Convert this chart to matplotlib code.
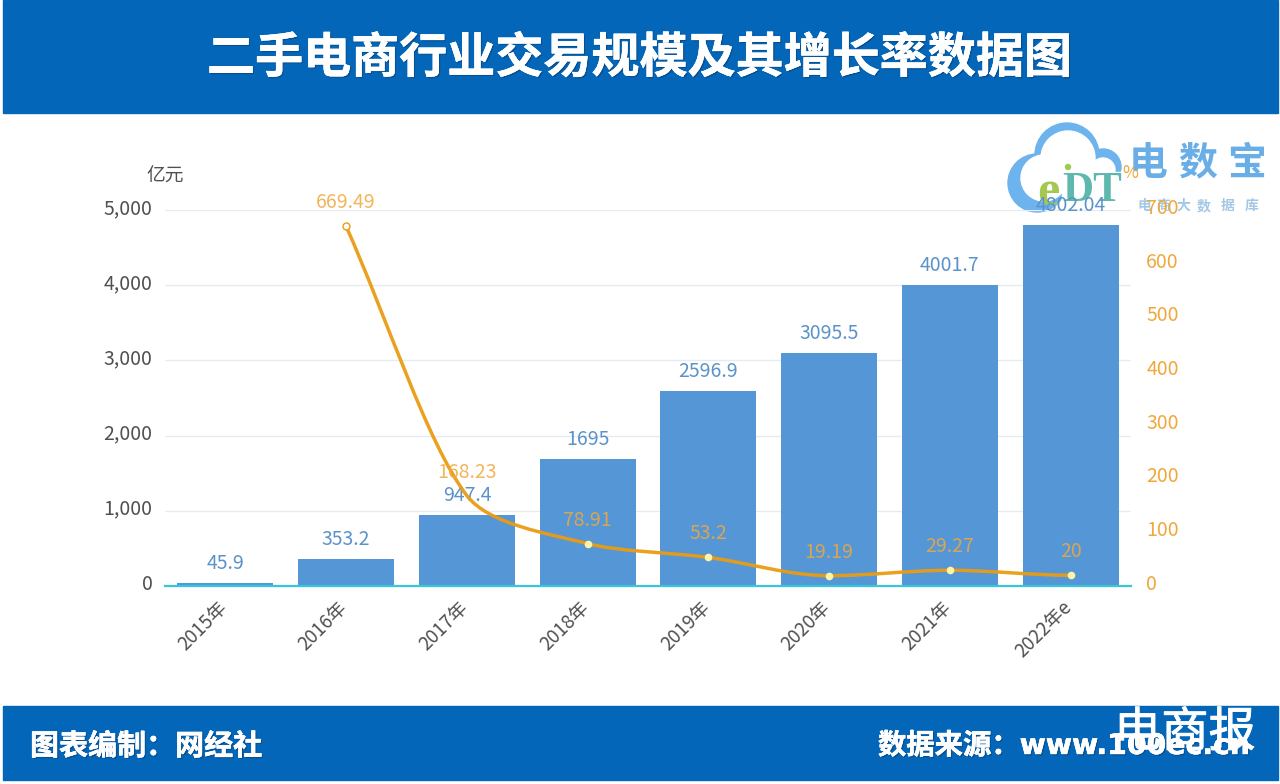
import numpy as np
import matplotlib
matplotlib.use('Agg')
import matplotlib.pyplot as plt
import matplotlib.patheffects as pe
from matplotlib.path import Path
from matplotlib.patches import PathPatch, Rectangle, Circle
from matplotlib.transforms import ScaledTranslation

plt.rcParams['font.family'] = ['Noto Sans CJK SC', 'DejaVu Sans']

years = ['2015年', '2016年', '2017年', '2018年', '2019年', '2020年', '2021年', '2022年e']
scale = [45.9, 353.2, 947.4, 1695, 2596.9, 3095.5, 4001.7, 4802.04]
scale_labels = ['45.9', '353.2', '947.4', '1695', '2596.9', '3095.5', '4001.7', '4802.04']
growth = [669.49, 168.23, 78.91, 53.2, 19.19, 29.27, 20]
growth_labels = ['669.49', '168.23', '78.91', '53.2', '19.19', '29.27', '20']
left_ticks = [0, 1000, 2000, 3000, 4000, 5000]
right_ticks = [0, 100, 200, 300, 400, 500, 600, 700]

band = '#0366b8'
bar_blue = '#5596d6'
label_blue = '#5b93c9'
orange = '#ea9c14'
label_orange = '#f0a83c'


def smooth_path(x, y):
    # bezier through the points, flat tangent at local extremes, short handles next to small steps
    x = np.asarray(x, float)
    y = np.asarray(y, float)
    t = np.zeros(len(y))
    t[0] = y[1] - y[0]
    for i in range(1, len(y) - 1):
        if (y[i] - y[i - 1]) * (y[i + 1] - y[i]) > 0:
            t[i] = (y[i + 1] - y[i - 1]) / 2
    verts = [(x[0], y[0])]
    codes = [Path.MOVETO]
    for i in range(len(y) - 1):
        d = abs(y[i + 1] - y[i])
        h0 = min(1 / 3, 0.6 * d / abs(t[i])) if t[i] != 0 else 1 / 3
        h1 = min(1 / 3, 0.6 * d / abs(t[i + 1])) if t[i + 1] != 0 else 1 / 3
        verts += [(x[i] + h0, y[i] + t[i] * h0),
                  (x[i + 1] - h1, y[i + 1] - t[i + 1] * h1),
                  (x[i + 1], y[i + 1])]
        codes += [Path.CURVE4] * 3
    return Path(verts, codes)


fig = plt.figure(figsize=(12.8, 7.84), dpi=100)

# page furniture in pixel coordinates
bg = fig.add_axes([0, 0, 1, 1], zorder=0)
bg.set_xlim(0, 1280)
bg.set_ylim(784, 0)
bg.axis('off')
bg.add_patch(Rectangle((3, 0), 1275, 113, color=band))
bg.add_patch(Rectangle((3, 706), 1275, 74, color=band))

shadow = [pe.withSimplePatchShadow(offset=(1, -1), shadow_rgbFace='#0b3f74', alpha=0.6),
          pe.withStroke(linewidth=0.3, foreground='white')]
bg.text(639, 58, '二手电商行业交易规模及其增长率数据图', color='white', fontsize=34.6,
        fontweight='bold', ha='center', va='center', path_effects=shadow)
bg.text(30, 746, '图表编制：网经社', color='white', fontsize=20.9, fontweight='bold',
        ha='left', va='center', path_effects=shadow)
bg.text(878, 746, '数据来源：www.100ec.cn', color='white', fontsize=20.4, fontweight='bold',
        family=['DejaVu Sans', 'Noto Sans CJK SC'], ha='left', va='center', path_effects=shadow)
bg.text(1185, 733, '电商报', color='white', fontsize=34, ha='center', va='center', zorder=10,
        path_effects=[pe.withStroke(linewidth=0.6, foreground='white')])

# logo
cloud = '#6db3ee'
for cx, cy, r in [(1037, 183, 29), (1067, 155, 32), (1103, 167, 18)]:
    bg.add_patch(Circle((cx, cy), r, color=cloud, zorder=2))
for cx, cy, r in [(1044, 178, 23), (1068, 158, 27), (1103, 170, 12)]:
    bg.add_patch(Circle((cx, cy), r, color='white', zorder=3))
bg.add_patch(Rectangle((1062, 172), 68, 48, color='white', zorder=3))
bg.add_patch(Circle((1068, 167), 2.5, color='#9ccc50', zorder=4))
bg.text(1048, 193, 'e', color='#a4c850', fontsize=36, fontweight='bold', family='Liberation Serif',
        ha='center', va='center', zorder=4)
bg.text(1092, 191, 'DT', color='#5fb8ae', fontsize=31, fontweight='bold', family='Liberation Serif',
        ha='center', va='center', zorder=4)
for cx, ch in zip([1148, 1198, 1247], '电数宝'):
    bg.text(cx, 163, ch, color='#6aaee8', fontsize=28, fontweight='bold', ha='center', va='center', zorder=4)
for cx, ch in zip([1144, 1163, 1183, 1204, 1228, 1252], '电商大数据库'):
    bg.text(cx, 206, ch, color='#a3c8e6', fontsize=10, fontweight='bold', ha='center', va='center', zorder=4)

# chart
ax = fig.add_axes([165 / 1280, 1 - 586 / 784, 966 / 1280, 376 / 784], zorder=1)
ax.patch.set_visible(False)
x = np.arange(len(years))
ax.bar(x, scale, width=0.795, color=bar_blue, zorder=2)
ax.set_xlim(-0.5, 7.5)
ax.set_ylim(0, 5000)
ax.set_yticks(left_ticks)
ax.set_yticklabels([f'{v:,}' for v in left_ticks], fontsize=14, color='#505050')
ax.set_xticks(x)
ax.set_xticklabels(years, fontsize=13.5, color='#505050', rotation=45, ha='right', rotation_mode='anchor')
ax.tick_params(axis='both', length=0)
ax.tick_params(axis='y', pad=9)
ax.tick_params(axis='x', pad=8)
up = ScaledTranslation(0, 3 / 72, fig.dpi_scale_trans)
left = ScaledTranslation(-9 / 100, 0, fig.dpi_scale_trans)
for lab in ax.get_yticklabels():
    lab.set_transform(lab.get_transform() + up)
for lab in ax.get_xticklabels():
    lab.set_transform(lab.get_transform() + left)
ax.grid(axis='y', color='#e6ebf2', linewidth=1, zorder=0)
ax.set_axisbelow(True)
for side in ['top', 'left', 'right']:
    ax.spines[side].set_visible(False)
ax.spines['bottom'].set_color('#35c8dc')
ax.spines['bottom'].set_linewidth(1.6)
for xi, v, s in zip(x, scale, scale_labels):
    ax.annotate(s, (xi, v), xytext=(0, 14), textcoords='offset points', ha='center', va='center',
                fontsize=14, color=label_blue, zorder=3)

ax2 = ax.twinx()
ax2.patch.set_visible(False)
ax2.set_ylim(0, 700)
ax2.set_yticks(right_ticks)
ax2.set_yticklabels([str(v) for v in right_ticks], fontsize=14, color=label_orange)
ax2.tick_params(axis='y', length=0, pad=11)
for lab in ax2.get_yticklabels():
    lab.set_transform(lab.get_transform() + up)
for side in ['top', 'left', 'right', 'bottom']:
    ax2.spines[side].set_visible(False)
line_x = x[1:]
ax2.add_patch(PathPatch(smooth_path(line_x, growth), fill=False, edgecolor=orange, linewidth=2.5,
                        alpha=0.95, zorder=4))
ax2.plot(line_x[:2], growth[:2], linestyle='none', marker='o', markersize=5, markerfacecolor='white',
         markeredgecolor=orange, markeredgewidth=1, zorder=5, markevery=[0])
ax2.plot(line_x[2:], growth[2:], linestyle='none', marker='o', markersize=5.5, markerfacecolor='#fdf4a6',
         markeredgecolor='none', zorder=5)
for xi, v, s in zip(line_x, growth, growth_labels):
    ax2.annotate(s, (xi, v), xytext=(0, 17), textcoords='offset points', ha='center', va='center',
                 fontsize=14, color=label_orange, alpha=0.85, zorder=6)

fig.text(165 / 1280, 1 - 176 / 784, '亿元', fontsize=13.5, color='#505050', ha='center', va='center')
fig.text(1130 / 1280, 1 - 173 / 784, '%', fontsize=12.5, color=label_orange, ha='center', va='center')

fig.savefig('out.png', dpi=100)
